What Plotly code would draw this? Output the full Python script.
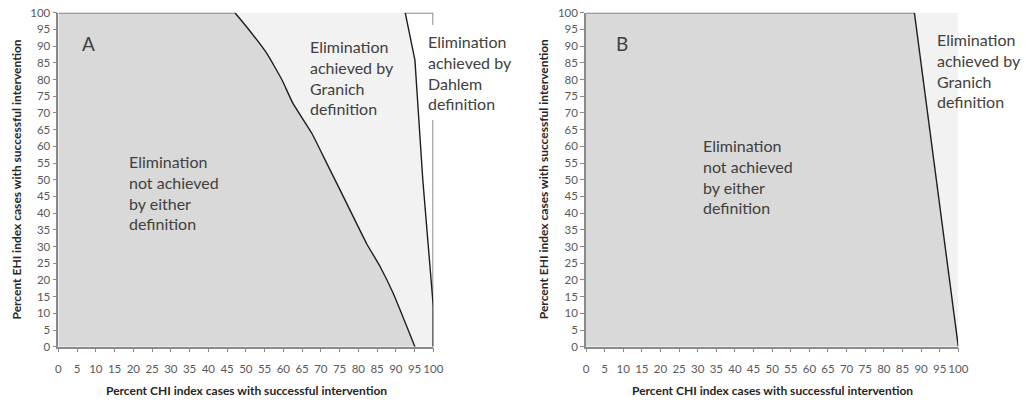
import plotly.graph_objects as go

W, H = 1026, 403

# ---- data ----
ticks = list(range(0, 101, 5))

# Panel A: Granich boundary (CHI %, EHI %)
granich_a_x = [47.1, 50.2, 55.6, 59.6, 62.5, 67.6, 71.6, 76.9, 82.2, 85.8, 89.3, 95.1]
granich_a_y = [100, 95.8, 87.8, 80.0, 73.0, 63.9, 54.9, 42.9, 30.9, 24.0, 16.0, 0]
# Panel A: Dahlem boundary
dahlem_a_x = [92.5, 95.1, 97.2, 100, 100]
dahlem_a_y = [100, 85.8, 50, 12, 0]
# Panel B: Granich boundary
granich_b_x = [88.2, 100]
granich_b_y = [100, 0]

labels_a = {
    "panel": "A",
    "not": "Elimination<br>not achieved<br>by either<br>definition",
    "granich": "Elimination<br>achieved by<br>Granich<br>definition",
    "dahlem": "Elimination<br>achieved by<br>Dahlem<br>definition",
}
labels_b = {
    "panel": "B",
    "not": "Elimination<br>not achieved<br>by either<br>definition",
    "granich": "Elimination<br>achieved by<br>Granich<br>definition",
}
x_title = "Percent CHI index cases with successful intervention"
y_title = "Percent EHI index cases with successful intervention"

DARK = "#d9d9d9"
LIGHT = "#f2f2f2"
EDGE = "#8a8a8a"
CURVE = "#1e1e1e"
TXT = "#404040"
FONT = "Lato"

def px(x):
    return x / W

def py(y):
    return 1 - y / H

fig = go.Figure()

# ---------- Panel A ----------
la_x = granich_a_x + dahlem_a_x[::-1]
la_y = granich_a_y + dahlem_a_y[::-1]
fig.add_trace(go.Scatter(x=la_x, y=la_y, fill="toself", fillcolor=LIGHT,
                         line=dict(width=0), mode="lines", xaxis="x", yaxis="y",
                         hoverinfo="skip", showlegend=False))
da_x = [0, 0] + granich_a_x + [0]
da_y = [0, 100] + granich_a_y + [0]
fig.add_trace(go.Scatter(x=da_x, y=da_y, fill="toself", fillcolor=DARK,
                         line=dict(width=0), mode="lines", xaxis="x", yaxis="y",
                         hoverinfo="skip", showlegend=False))
fig.add_trace(go.Scatter(x=[0, granich_a_x[0], None, dahlem_a_x[0], 100, 100, None, 100, 100],
                         y=[100, 100, None, 100, 100, 96.3, None, 67.9, 0],
                         mode="lines", line=dict(color=EDGE, width=2), xaxis="x", yaxis="y",
                         hoverinfo="skip", showlegend=False))
fig.add_trace(go.Scatter(x=granich_a_x, y=granich_a_y, mode="lines",
                         line=dict(color=CURVE, width=1.4, shape="spline", smoothing=0.4),
                         xaxis="x", yaxis="y", hoverinfo="skip", showlegend=False))
fig.add_trace(go.Scatter(x=dahlem_a_x, y=dahlem_a_y, mode="lines",
                         line=dict(color=CURVE, width=1.4), xaxis="x", yaxis="y",
                         hoverinfo="skip", showlegend=False))

# ---------- Panel B ----------
lb_x = granich_b_x + [100, granich_b_x[0]]
lb_y = granich_b_y + [100, granich_b_y[0]]
fig.add_trace(go.Scatter(x=lb_x, y=lb_y, fill="toself", fillcolor=LIGHT,
                         line=dict(width=0), mode="lines", xaxis="x2", yaxis="y2",
                         hoverinfo="skip", showlegend=False))
db_x = [0, 0] + granich_b_x + [0]
db_y = [0, 100] + granich_b_y + [0]
fig.add_trace(go.Scatter(x=db_x, y=db_y, fill="toself", fillcolor=DARK,
                         line=dict(width=0), mode="lines", xaxis="x2", yaxis="y2",
                         hoverinfo="skip", showlegend=False))
fig.add_trace(go.Scatter(x=[0, granich_b_x[0]], y=[100, 100], mode="lines",
                         line=dict(color=EDGE, width=2), xaxis="x2", yaxis="y2",
                         hoverinfo="skip", showlegend=False))
fig.add_trace(go.Scatter(x=granich_b_x, y=granich_b_y, mode="lines",
                         line=dict(color=CURVE, width=1.4), xaxis="x2", yaxis="y2",
                         hoverinfo="skip", showlegend=False))

y_dom = [py(346.7), py(12.7)]
axis_common = dict(range=[0, 100], tickmode="array", tickvals=ticks,
                   ticktext=[str(t) for t in ticks], ticks="outside", ticklen=4,
                   tickcolor=EDGE, showline=True, linecolor=EDGE, linewidth=1.5,
                   showgrid=False, zeroline=False, tickangle=0, automargin=False,
                   tickfont=dict(family=FONT, size=11.5, color="#595959"))

fig.update_layout(
    width=W, height=H,
    margin=dict(l=0, r=0, t=0, b=0),
    paper_bgcolor="white", plot_bgcolor="white",
    xaxis=dict(domain=[px(58.3), px(433.3)], anchor="y", ticklabelstandoff=7, **axis_common),
    yaxis=dict(domain=y_dom, anchor="x", **axis_common),
    xaxis2=dict(domain=[px(586), px(958.3)], anchor="y2", ticklabelstandoff=7, **axis_common),
    yaxis2=dict(domain=y_dom, anchor="x2", **axis_common),
    font=dict(family=FONT),
)

def note(text, x, y, size=16, color=TXT, bold=False, angle=0, xanchor="left",
         yanchor="top"):
    t = f"<b>{text}</b>" if bold else text
    fig.add_annotation(text=t, x=px(x), y=py(y), xref="paper", yref="paper",
                       showarrow=False, xanchor=xanchor, yanchor=yanchor, align="left",
                       textangle=angle, font=dict(family=FONT, size=size, color=color))

# Panel A labels
note(labels_a["panel"], 88, 43, size=19, xanchor="center", yanchor="middle")
note(labels_a["not"], 127, 150)
note(labels_a["granich"], 308, 35)
note(labels_a["dahlem"], 426, 30)
# Panel B labels
note(labels_b["panel"], 622, 43, size=19, xanchor="center", yanchor="middle")
note(labels_b["not"], 701, 134)
note(labels_b["granich"], 935, 28)

# axis titles
for cx in (246, 772.5):
    note(x_title, cx, 390, size=12, color="#262626", bold=True,
         xanchor="center", yanchor="middle")
for cx in (16, 543.7):
    note(y_title, cx, 179.5, size=12, color="#262626", bold=True, angle=-90,
         xanchor="center", yanchor="middle")

fig.write_html("out.html", config={"displayModeBar": False},
               post_script="document.body.style.margin='0px';document.body.style.overflow='hidden';")
